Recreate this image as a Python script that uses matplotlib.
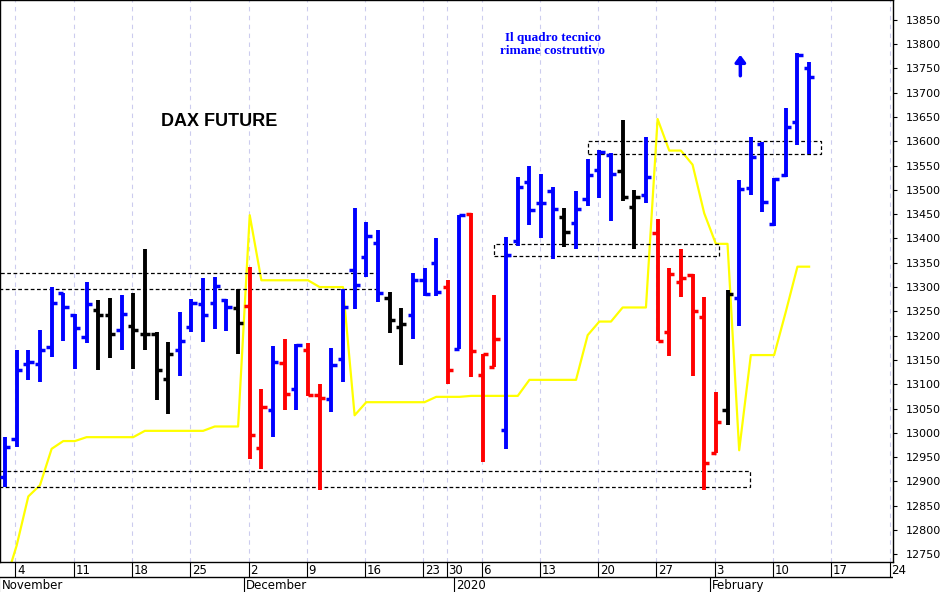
import matplotlib
matplotlib.use("Agg")
import matplotlib.pyplot as plt
from matplotlib.patches import Rectangle

opens = [12909,12988,13142,13142,13177,13287,13243,13197,13252,13242,13211,13219,13204,13203,13111,13171,13218,13266,13268,13273,13256,
         13261,12969,13046,13144,13091,13170,13077,13070,13151,13335,13362,13391,13278,13218,13243,13315,13350,13300,13173,
         13451,13118,13135,13006,13394,13517,13473,13498,13445,13431,13481,13541,13571,13539,13464,13490,13412,13207,13311,13325,
         13239,12959,13047,13277,13503,13595,13430,13531,13640,13751]
highs = [12991,13170,13170,13211,13300,13288,13245,13311,13273,13278,13283,13287,13379,13208,13186,13249,13275,13319,13320,13276,13297,
         13341,13090,13178,13194,13182,13184,13100,13175,13297,13462,13434,13417,13290,13256,13329,13340,13402,13314,13448,
         13453,13162,13284,13404,13526,13549,13532,13507,13462,13498,13563,13582,13577,13644,13500,13608,13440,13339,13378,13327,
         13280,13083,13295,13521,13608,13598,13524,13668,13782,13764]
lows = [12888,12971,13108,13105,13156,13190,13132,13184,13130,13153,13170,13132,13171,13067,13039,13116,13208,13187,13214,13210,13162,
        12947,12926,12991,13046,13046,13075,12883,13043,13105,13254,13321,13269,13206,13139,13194,13282,13281,13101,13173,
        13114,12940,13135,12966,13385,13428,13400,13357,13383,13378,13467,13483,13435,13478,13378,13473,13190,13158,13280,13116,
        12882,12959,13016,13220,13490,13455,13425,13527,13593,13574]
closes = [12971,13130,13146,13170,13267,13259,13216,13265,13242,13204,13245,13211,13203,13129,13162,13190,13267,13242,13303,13260,13226,
          12996,13053,13146,13079,13181,13077,13072,13139,13259,13304,13405,13287,13232,13225,13315,13285,13290,13130,13448,
          13168,13162,13193,13366,13507,13459,13473,13461,13414,13461,13531,13578,13532,13485,13485,13527,13190,13326,13318,13251,
          12937,13023,13286,13501,13567,13476,13522,13629,13778,13733]
colors = ['b','b','b','b','b','b','b','b','k','k','b','k','k','k','k','b','b','b','b','b','k',
          'r','r','b','r','b','r','r','b','b','b','b','b','k','k','b','b','b','r','b',
          'r','r','r','b','b','b','b','b','k','b','b','b','b','k','k','b','r','r','r','r',
          'r','r','k','b','b','b','b','b','b','b']
yellow = [12690,12768,12869,12892,12967,12983,12983,12991,12991,12991,12991,12991,13004,13004,13004,13004,13004,13004,13013,13013,13013,
          13448,13314,13314,13314,13314,13314,13300,13300,13300,13036,13063,13063,13063,13063,13063,13063,13074,13074,13074,
          13076,13076,13076,13076,13076,13109,13109,13109,13109,13109,13201,13229,13229,13258,13258,13258,13646,13581,13581,13552,
          13452,13389,13389,12964,13160,13160,13160,13249,13342,13342]
tick_pos = [1,6,11,16,21,26,31,36,38,41,46,51,56,61,66,71,76]
tick_lab = ['4','11','18','25','2','9','16','23','30','6','13','20','27','3','10','17','24']
months = [(0,'November'),(21,'December'),(39,'2020'),(61,'February')]
boxes = [(-0.5,32,13297,13328),(-0.5,63.9,12888,12921),(50,70,13574,13600),(42,61.3,13363,13389)]

cmap = {'b':'#0000ff','r':'#ff0000','k':'#000000'}
fig = plt.figure(figsize=(9.47,5.92), dpi=100)
ax = fig.add_axes([0.0, 1-562/592, 893/947, 562/592])
x0, x1 = -0.43, 76.2
ax.set_xlim(x0, x1); ax.set_ylim(12734, 13891)
for t in tick_pos:
    ax.axvline(t-0.1, color='#ccccee', lw=0.8, ls=(0,(4,4)), zorder=0)
ax.plot(range(len(yellow)), yellow, color='#ffff00', lw=1.6, zorder=1)
for i in range(len(opens)):
    c = cmap[colors[i]]
    ax.vlines(i, lows[i], highs[i], color=c, lw=2.8, zorder=3)
    ax.hlines(opens[i], i-0.45, i, color=c, lw=2.5, zorder=3)
    ax.hlines(closes[i], i, i+0.45, color=c, lw=2.5, zorder=3)
for a,b,lo,hi in boxes:
    ax.add_patch(Rectangle((a,lo), b-a, hi-lo, fill=False, ls=(0,(3,2)), lw=0.9, ec='k', zorder=2))
ax.text(18.4, 13640, 'DAX FUTURE', fontsize=13, fontweight='bold', ha='center', va='center', family='Liberation Sans')
ax.text(47.0, 13800, 'Il quadro tecnico\nrimane costruttivo', fontsize=9.5, fontweight='bold', color='#0000ff', ha='center', va='center', family='Liberation Serif', linespacing=1.1)
ax.annotate('', xy=(63.1, 13778), xytext=(63.1, 13735), arrowprops=dict(arrowstyle='-|>,head_width=0.3,head_length=0.4', color='#0000ff', lw=2.5, shrinkA=0, shrinkB=0))
ax.yaxis.tick_right()
ax.set_yticks(range(12750, 13851, 50))
ax.tick_params(axis='y', labelsize=8, length=3, pad=6)
ax.set_xticks([])
for s in ax.spines.values(): s.set_linewidth(1)
ax2 = fig.add_axes([0.0, 0.0, 893/947, 30/592])
ax2.set_xlim(x0, x1); ax2.set_ylim(0, 2)
ax2.axis('off')
ax2.axhline(1, color='k', lw=1)
for t, l in zip(tick_pos, tick_lab):
    ax2.vlines(t-0.1, 1, 2, color='k', lw=0.8)
    ax2.text(t+0.05, 1.45, l, fontsize=8.5, va='center', ha='left')
for t, l in months:
    ax2.vlines(t-0.5, 0, 1, color='k', lw=0.8)
    ax2.text(t-0.3, 0.45, l, fontsize=8.5, va='center', ha='left')
fig.savefig('out.png', dpi=100, facecolor='white')
